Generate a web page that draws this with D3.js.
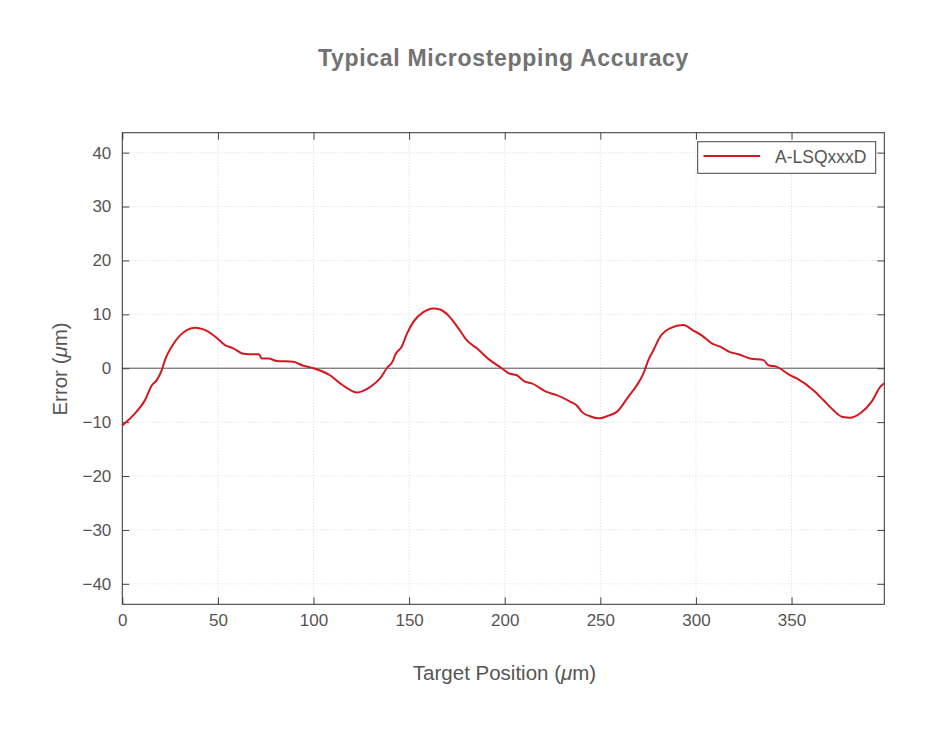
<!DOCTYPE html>
<html><head><meta charset="utf-8">
<script src="https://cdn.jsdelivr.net/npm/d3@7"></script>
<style>body{margin:0;background:#fff;} svg{display:block;font-family:"Liberation Sans",Arial,sans-serif;}</style>
</head><body>
<svg id="chart" width="933" height="735"></svg>
<script>
const positions = [0,5.8,11.9,15.4,18,20.6,22.3,25.8,30.2,34,38,42.4,48.5,53.7,58,63.3,70.3,71.5,72.9,76.4,80.7,89.4,94.7,100,108.6,113.9,118,122.6,126,129.5,134.8,138.3,141.7,142.6,146.1,149,152.2,157.4,162.7,166.2,170.5,176.6,180.1,185.4,192.3,198.4,201.9,206.3,210.6,214.1,221.9,227.2,234.2,237.7,240.3,244.6,249,254.2,258.6,264.6,269,272.5,275.1,277.7,281.2,286.4,293.4,298.6,303,308.3,312.6,317.8,322.2,328.3,335.3,337.9,342.3,349.2,352.7,361.4,366.6,371.9,376.3,380.6,385.8,391.9,396.3,398.5];
const errors = [-10.6,-8.7,-5.9,-3.2,-2.2,-0.4,1.5,4,6.1,7.1,7.5,7.2,5.9,4.3,3.7,2.7,2.6,2.6,1.8,1.8,1.35,1.2,0.45,0,-1.3,-2.8,-3.8,-4.5,-4.2,-3.5,-1.9,0,1.5,2.4,4,6.5,8.6,10.4,11.1,10.9,9.8,7,5.2,3.7,1.5,0,-0.9,-1.3,-2.5,-2.8,-4.4,-5,-6.2,-6.9,-8.1,-8.9,-9.3,-8.8,-8.1,-5.3,-3.2,-1,1.5,3.3,5.8,7.4,8,7,6.1,4.6,4,3,2.6,1.8,1.5,0.55,0.25,-1.3,-1.9,-4.1,-5.9,-7.8,-9,-9.2,-8.4,-6.2,-3.5,-2.8];
const xTicks = [0,50,100,150,200,250,300,350];
const yTicks = [-40,-30,-20,-10,0,10,20,30,40];
const seriesName = "A-LSQxxxD";

const svg = d3.select("#chart");
const L = 122.3, R = 884.3, T = 132.7, B = 604.3;
const x = d3.scaleLinear().domain([0, 398.5]).range([L, R]);
const y = d3.scaleLinear().domain([-43.8, 43.7]).range([B, T]);

// grid
const grid = svg.append("g");
xTicks.forEach(t => grid.append("line").attr("x1", x(t)).attr("x2", x(t)).attr("y1", T).attr("y2", B)
  .attr("stroke", "#d4d8e0").attr("stroke-width", 1).attr("stroke-dasharray", "1,2"));
yTicks.forEach(t => grid.append("line").attr("x1", L).attr("x2", R).attr("y1", y(t)).attr("y2", y(t))
  .attr("stroke", "#d4d8e0").attr("stroke-width", 1).attr("stroke-dasharray", "1,2"));

// zero line
svg.append("line").attr("x1", L).attr("x2", R).attr("y1", y(0)).attr("y2", y(0))
  .attr("stroke", "#555").attr("stroke-width", 1);

// axes
const axStyle = g => {
  g.select(".domain").remove();
  g.selectAll(".tick line").attr("stroke", "#444");
  g.selectAll(".tick text").attr("fill", "#555").style("font-size", "17px").style("font-family", "'Liberation Sans',Arial,sans-serif");
};
svg.append("g").attr("transform", `translate(0,${B})`)
  .call(d3.axisBottom(x).tickValues(xTicks).tickSize(-7).tickPadding(10).tickFormat(d3.format("d")))
  .call(axStyle);
svg.append("g").attr("transform", `translate(0,${T})`)
  .call(d3.axisTop(x).tickValues(xTicks).tickSize(-7).tickFormat(""))
  .call(axStyle);
svg.append("g").attr("transform", `translate(${L},0)`)
  .call(d3.axisLeft(y).tickValues(yTicks).tickSize(-7).tickPadding(11).tickFormat(d => d < 0 ? "\u2212" + Math.abs(d) : d))
  .call(axStyle);
svg.append("g").attr("transform", `translate(${R},0)`)
  .call(d3.axisRight(y).tickValues(yTicks).tickSize(-7).tickFormat(""))
  .call(axStyle);

svg.append("rect").attr("x", L).attr("y", T).attr("width", R - L).attr("height", B - T)
  .attr("fill", "none").attr("stroke", "#333").attr("stroke-width", 1);

// line
const data = positions.map((p, i) => ({p, e: errors[i]}));
svg.append("path").datum(data)
  .attr("d", d3.line().x(d => x(d.p)).y(d => y(d.e)).curve(d3.curveMonotoneX))
  .attr("fill", "none").attr("stroke", "#d41820").attr("stroke-width", 2);

// legend
svg.append("rect").attr("x", 697.7).attr("y", 141.7).attr("width", 178).attr("height", 31.6)
  .attr("fill", "#fff").attr("stroke", "#444").attr("stroke-width", 1);
svg.append("line").attr("x1", 703.5).attr("x2", 760).attr("y1", 156).attr("y2", 156)
  .attr("stroke", "#d41820").attr("stroke-width", 2);
svg.append("text").attr("x", 775).attr("y", 162.5).attr("fill", "#555")
  .style("font-size", "17.5px").text(seriesName);

// title
svg.append("text").attr("x", 503.5).attr("y", 66).attr("text-anchor", "middle")
  .attr("fill", "#727272").style("font-size", "23px").style("font-weight", "bold")
  .style("letter-spacing", "0.7px")
  .text("Typical Microstepping Accuracy");

// axis labels
const xl = svg.append("text").attr("x", 504.5).attr("y", 680).attr("text-anchor", "middle")
  .attr("fill", "#555").style("font-size", "20.5px");
xl.append("tspan").text("Target Position (");
xl.append("tspan").style("font-style", "italic").text("\u03bc");
xl.append("tspan").text("m)");

const yl = svg.append("text").attr("transform", "translate(67,369) rotate(-90)").attr("text-anchor", "middle")
  .attr("fill", "#555").style("font-size", "20.5px");
yl.append("tspan").text("Error (");
yl.append("tspan").style("font-style", "italic").text("\u03bc");
yl.append("tspan").text("m)");
</script>
</body></html>
